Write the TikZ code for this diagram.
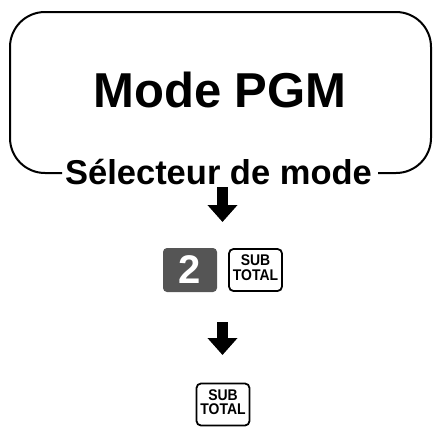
\documentclass[tikz,border=0pt]{standalone}
\usepackage{fontspec}
\setmainfont{Liberation Sans}
\usetikzlibrary{arrows.meta}
\definecolor{keygrey}{HTML}{555555}
\newcommand{\keytext}{\scalebox{0.9}[1]{\begin{tabular}{@{}c@{}}SUB\\[-1.5pt]TOTAL\end{tabular}}}
\tikzset{
  frame/.style={line width=2pt, rounded corners=35pt},
  bigarrow/.style={line width=11.5pt, -{Triangle[width=29pt,length=17pt]}},
  keywhite/.style={draw, line width=1.8pt, rounded corners=4.5pt, minimum width=53pt, minimum height=42pt, inner sep=0pt, align=center, font=\bfseries\fontsize{15.5}{16}\selectfont},
  keydark/.style={fill=keygrey, rounded corners=4pt, minimum width=54pt, minimum height=44pt, inner sep=0pt, text=white, font=\bfseries\fontsize{40}{40}\selectfont},
}
\begin{document}
\begin{tikzpicture}[x=1pt,y=-1pt]
\useasboundingbox (0,0) rectangle (437,431);
\draw[frame] (62,173) -- (10,173) -- (10,12) -- (431,12) -- (431,173) -- (378,173);
\node[anchor=base, font=\bfseries\fontsize{49}{49}\selectfont] (title) at (220,107) {Mode PGM};
\node[anchor=base, font=\bfseries\fontsize{34.5}{34.5}\selectfont] (sel) at (218.5,184.5) {Sélecteur de mode};
\coordinate (a1s) at (222.5,187);
\coordinate (a1e) at (222.5,222);
\draw[bigarrow] (a1s) -- (a1e);
\node[keydark] (k2) at (190,270) {2};
\node[keywhite] (st1) at (255.5,270) {\keytext};
\coordinate (a2s) at (222.5,322);
\coordinate (a2e) at (222.5,355);
\draw[bigarrow] (a2s) -- (a2e);
\node[keywhite] (st2) at (223,404.5) {\keytext};
\end{tikzpicture}
\end{document}
